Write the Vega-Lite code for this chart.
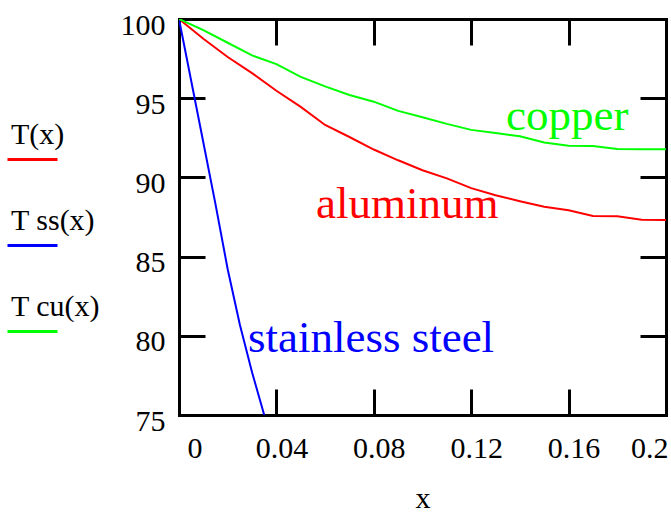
{
  "$schema": "https://vega.github.io/schema/vega-lite/v6.json",
  "width": 487,
  "height": 396,
  "autosize": "none",
  "padding": {"left": 179, "top": 19, "right": 5, "bottom": 97},
  "background": "white",
  "config": {
    "font": "Liberation Serif",
    "view": {"stroke": null},
    "style": {"guide-label": {"lineHeight": 50}},
    "axis": {
      "grid": false,
      "domainColor": "black",
      "domainWidth": 3,
      "domainCap": "square",
      "tickColor": "black",
      "tickWidth": 3,
      "tickSize": -26,
      "labelColor": "black",
      "labelFont": "Liberation Serif",
      "labelFontSize": 30,
      "titleFont": "Liberation Serif",
      "titleFontSize": 30,
      "titleFontWeight": "normal",
      "titleColor": "black"
    }
  },
  "datasets": {
    "curves": [
      {"series": "T(x)", "x": 0.00, "T": 100},
      {"series": "T(x)", "x": 0.01, "T": 98.75},
      {"series": "T(x)", "x": 0.02, "T": 97.6},
      {"series": "T(x)", "x": 0.03, "T": 96.58},
      {"series": "T(x)", "x": 0.04, "T": 95.47},
      {"series": "T(x)", "x": 0.05, "T": 94.45},
      {"series": "T(x)", "x": 0.06, "T": 93.31},
      {"series": "T(x)", "x": 0.07, "T": 92.55},
      {"series": "T(x)", "x": 0.08, "T": 91.76},
      {"series": "T(x)", "x": 0.09, "T": 91.08},
      {"series": "T(x)", "x": 0.10, "T": 90.45},
      {"series": "T(x)", "x": 0.11, "T": 89.94},
      {"series": "T(x)", "x": 0.12, "T": 89.32},
      {"series": "T(x)", "x": 0.13, "T": 88.87},
      {"series": "T(x)", "x": 0.14, "T": 88.5},
      {"series": "T(x)", "x": 0.15, "T": 88.15},
      {"series": "T(x)", "x": 0.16, "T": 87.92},
      {"series": "T(x)", "x": 0.17, "T": 87.56},
      {"series": "T(x)", "x": 0.18, "T": 87.54},
      {"series": "T(x)", "x": 0.19, "T": 87.33},
      {"series": "T(x)", "x": 0.20, "T": 87.31},
      {"series": "T ss(x)", "x": 0.000, "T": 100},
      {"series": "T ss(x)", "x": 0.005, "T": 96.1},
      {"series": "T ss(x)", "x": 0.010, "T": 92.2},
      {"series": "T ss(x)", "x": 0.015, "T": 88.3},
      {"series": "T ss(x)", "x": 0.020, "T": 84.2},
      {"series": "T ss(x)", "x": 0.025, "T": 80.7},
      {"series": "T ss(x)", "x": 0.030, "T": 77.7},
      {"series": "T ss(x)", "x": 0.035, "T": 75.0},
      {"series": "T ss(x)", "x": 0.040, "T": 72.5},
      {"series": "T cu(x)", "x": 0.00, "T": 100},
      {"series": "T cu(x)", "x": 0.01, "T": 99.3},
      {"series": "T cu(x)", "x": 0.02, "T": 98.5},
      {"series": "T cu(x)", "x": 0.03, "T": 97.7},
      {"series": "T cu(x)", "x": 0.04, "T": 97.15},
      {"series": "T cu(x)", "x": 0.05, "T": 96.35},
      {"series": "T cu(x)", "x": 0.06, "T": 95.75},
      {"series": "T cu(x)", "x": 0.07, "T": 95.2},
      {"series": "T cu(x)", "x": 0.08, "T": 94.78},
      {"series": "T cu(x)", "x": 0.09, "T": 94.2},
      {"series": "T cu(x)", "x": 0.10, "T": 93.8},
      {"series": "T cu(x)", "x": 0.11, "T": 93.38},
      {"series": "T cu(x)", "x": 0.12, "T": 93.0},
      {"series": "T cu(x)", "x": 0.13, "T": 92.8},
      {"series": "T cu(x)", "x": 0.14, "T": 92.6},
      {"series": "T cu(x)", "x": 0.15, "T": 92.2},
      {"series": "T cu(x)", "x": 0.16, "T": 92.0},
      {"series": "T cu(x)", "x": 0.17, "T": 91.98},
      {"series": "T cu(x)", "x": 0.18, "T": 91.8},
      {"series": "T cu(x)", "x": 0.19, "T": 91.78},
      {"series": "T cu(x)", "x": 0.20, "T": 91.78}
    ],
    "labels": [
      {"series": "T cu(x)", "label": "copper", "x": 0.1343, "T": 93.0},
      {"series": "T(x)", "label": "aluminum", "x": 0.0563, "T": 87.44},
      {"series": "T ss(x)", "label": "stainless steel", "x": 0.0283, "T": 78.98}
    ]
  },
  "layer": [
    {
      "data": {"name": "curves"},
      "mark": {"type": "line", "strokeWidth": 2, "clip": true},
      "encoding": {
        "x": {
          "field": "x", "type": "quantitative",
          "scale": {"domain": [0, 0.2], "nice": false, "zero": false},
          "axis": {
            "orient": "bottom",
            "title": "x",
            "values": [0, 0.04, 0.08, 0.12, 0.16, 0.2],
            "format": ".2~f",
            "labelPadding": 44,
            "labelOffset": 5,
            "labelFlush": true,
            "labelFlushOffset": -3,
            "titleY": 92,
            "titleBaseline": "alphabetic"
          }
        },
        "y": {
          "field": "T", "type": "quantitative",
          "scale": {"domain": [75, 100], "nice": false, "zero": false},
          "axis": {
            "orient": "left",
            "title": null,
            "values": [75, 80, 85, 90, 95, 100],
            "labelPadding": 40,
            "labelOffset": 6
          }
        },
        "color": {
          "field": "series", "type": "nominal",
          "scale": {"domain": ["T(x)", "T ss(x)", "T cu(x)"], "range": ["#ff0000", "#0000ff", "#00ff00"]},
          "legend": {
            "title": null,
            "orient": "none",
            "legendX": -173,
            "legendY": 114,
            "direction": "vertical",
            "padding": 0,
            "symbolType": "stroke",
            "symbolSize": 2500,
            "symbolStrokeWidth": 3,
            "labelOffset": -48,
            "labelAlign": "left",
            "labelBaseline": "line-bottom",
            "labelFontSize": 30,
            "labelFont": "Liberation Serif",
            "labelColor": "black",
            "labelLimit": 300,
            "rowPadding": 39
          }
        },
        "detail": {"field": "series"}
      }
    },
    {
      "data": {"name": "labels"},
      "mark": {"type": "text", "align": "left", "baseline": "alphabetic", "fontSize": 45, "font": "Liberation Serif"},
      "encoding": {
        "x": {
          "field": "x", "type": "quantitative",
          "axis": {"orient": "top", "title": null, "labels": false, "values": [0, 0.04, 0.08, 0.12, 0.16, 0.2]}
        },
        "y": {
          "field": "T", "type": "quantitative",
          "axis": {"orient": "right", "title": null, "labels": false, "values": [75, 80, 85, 90, 95, 100]}
        },
        "text": {"field": "label"},
        "color": {"field": "series", "type": "nominal"}
      }
    }
  ],
  "resolve": {"axis": {"x": "independent", "y": "independent"}}
}
